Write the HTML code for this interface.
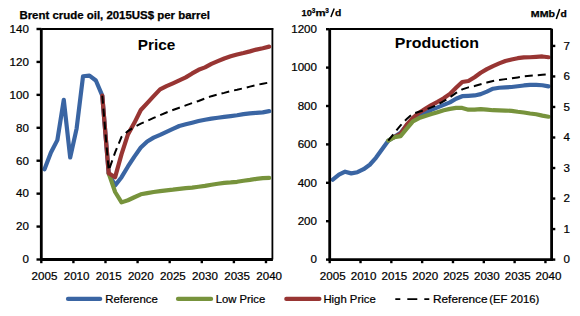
<!DOCTYPE html>
<html><head><meta charset="utf-8"><style>
html,body{margin:0;padding:0;background:#fff;width:580px;height:316px;overflow:hidden;}
svg{display:block;}
text{fill:#000;}
</style></head><body>
<svg width="580" height="316" viewBox="0 0 580 316">
<line x1="41.3" y1="29" x2="273.3" y2="29" stroke="#000" stroke-width="2"/>
<line x1="272.4" y1="28" x2="272.4" y2="259.5" stroke="#000" stroke-width="1.8"/>
<line x1="329.7" y1="29" x2="551.6" y2="29" stroke="#000" stroke-width="2"/>
<polyline points="44.51,169.28 50.93,152.48 57.35,140.13 63.77,99.80 70.19,157.42 76.61,128.61 83.03,76.25 89.45,75.59 95.87,80.53 102.28,95.68 108.70,173.23 115.12,185.41 121.54,177.18 127.96,166.48 134.38,156.60 140.80,147.54 147.22,141.45 153.64,137.66 160.06,134.87 166.48,131.90 172.90,128.94 179.32,125.97 185.74,124.33 192.16,122.68 198.58,121.04 205.00,119.72 211.42,118.57 217.83,117.74 224.25,116.92 230.67,116.10 237.09,115.27 243.51,114.12 249.93,113.30 256.35,112.80 262.77,112.31 269.19,111.16" fill="none" stroke="#3A65A3" stroke-width="4.2" stroke-linejoin="round" stroke-linecap="round"/>
<polyline points="108.70,173.23 115.12,192.00 121.54,202.37 127.96,200.23 134.38,197.26 140.80,194.30 147.22,193.15 153.64,192.00 160.06,191.17 166.48,190.35 172.90,189.69 179.32,188.87 185.74,188.05 192.16,187.55 198.58,186.73 205.00,185.90 211.42,184.75 217.83,183.76 224.25,182.94 230.67,182.45 237.09,181.79 243.51,180.72 249.93,179.90 256.35,178.91 262.77,178.08 269.19,177.92" fill="none" stroke="#77933C" stroke-width="4.2" stroke-linejoin="round" stroke-linecap="round"/>
<polyline points="102.28,95.68 108.70,173.23 115.12,177.18 121.54,154.13 127.96,134.37 134.38,122.85 140.80,110.00 147.22,103.09 153.64,96.17 160.06,89.42 166.48,86.13 172.90,83.33 179.32,80.37 185.74,77.41 192.16,73.45 198.58,69.83 205.00,67.36 211.42,63.90 217.83,61.11 224.25,58.47 230.67,56.33 237.09,54.52 243.51,53.04 249.93,51.39 256.35,49.58 262.77,48.26 269.19,46.62" fill="none" stroke="#983533" stroke-width="4.2" stroke-linejoin="round" stroke-linecap="round"/>
<polyline points="102.28,95.68 108.70,170.59 115.12,152.48 121.54,136.84 127.96,131.08 134.38,126.96 140.80,123.67 147.22,120.87 153.64,117.91 160.06,115.11 166.48,112.47 172.90,110.00 179.32,107.70 185.74,105.39 192.16,103.09 198.58,100.95 205.00,98.48 211.42,96.17 217.83,94.53 224.25,92.88 230.67,91.07 237.09,89.75 243.51,88.27 249.93,86.62 256.35,84.98 262.77,83.66 269.19,82.51" fill="none" stroke="#000" stroke-width="2" stroke-dasharray="8,5"/>
<polyline points="332.78,179.73 338.95,174.74 345.11,171.66 351.27,173.39 357.44,172.24 363.60,169.17 369.77,164.75 375.93,157.84 382.09,149.20 388.26,140.75 394.42,136.72 400.58,132.88 406.75,125.20 412.91,118.48 419.08,115.22 425.24,112.91 431.40,109.84 437.57,107.34 443.73,104.85 449.90,102.35 456.06,98.70 462.22,96.21 468.39,95.82 474.55,95.44 480.72,94.10 486.88,91.60 493.04,88.72 499.21,87.76 505.37,87.38 511.53,86.99 517.70,86.22 523.86,85.46 530.03,84.88 536.19,84.88 542.35,85.26 548.52,86.42" fill="none" stroke="#3A65A3" stroke-width="4.2" stroke-linejoin="round" stroke-linecap="round"/>
<polyline points="394.42,137.10 400.58,133.84 406.75,124.62 412.91,117.90 419.08,112.72 425.24,108.88 431.40,105.04 437.57,101.78 443.73,98.32 449.90,93.90 456.06,87.76 462.22,82.00 468.39,81.04 474.55,77.20 480.72,72.78 486.88,69.14 493.04,66.06 499.21,63.38 505.37,61.07 511.53,59.54 517.70,58.19 523.86,57.42 530.03,57.23 536.19,56.85 542.35,56.46 548.52,57.23" fill="none" stroke="#983533" stroke-width="4.2" stroke-linejoin="round" stroke-linecap="round"/>
<polyline points="388.26,140.56 394.42,137.10 400.58,136.14 406.75,128.66 412.91,121.36 419.08,118.10 425.24,115.98 431.40,114.06 437.57,112.14 443.73,110.22 449.90,108.88 456.06,107.92 462.22,107.92 468.39,109.65 474.55,109.65 480.72,109.07 486.88,109.65 493.04,110.22 499.21,110.42 505.37,110.61 511.53,110.80 517.70,111.76 523.86,112.53 530.03,113.49 536.19,114.26 542.35,115.60 548.52,116.75" fill="none" stroke="#77933C" stroke-width="4.2" stroke-linejoin="round" stroke-linecap="round"/>
<polyline points="388.26,140.56 394.42,132.88 400.58,125.39 406.75,118.86 412.91,113.68 419.08,111.76 425.24,109.84 431.40,107.34 437.57,104.85 443.73,101.20 449.90,97.36 456.06,92.94 462.22,89.30 468.39,87.38 474.55,86.03 480.72,84.30 486.88,82.58 493.04,81.04 499.21,79.89 505.37,79.12 511.53,78.35 517.70,77.39 523.86,76.43 530.03,75.86 536.19,75.28 542.35,74.70 548.52,74.32" fill="none" stroke="#000" stroke-width="2" stroke-dasharray="8,5"/>
<line x1="41.3" y1="28.5" x2="41.3" y2="260.7" stroke="#000" stroke-width="2.8"/>
<line x1="40.099999999999994" y1="259.5" x2="272.9" y2="259.5" stroke="#000" stroke-width="2.8"/>
<line x1="36.5" y1="259.50" x2="41.3" y2="259.50" stroke="#000" stroke-width="2.4"/>
<text x="28.90" y="263.30" text-anchor="end" font-family="'Liberation Sans', sans-serif" stroke="#000" stroke-width="0.22" font-size="11" textLength="6.45" lengthAdjust="spacingAndGlyphs">0</text>
<line x1="36.5" y1="226.57" x2="41.3" y2="226.57" stroke="#000" stroke-width="2.4"/>
<text x="28.90" y="230.37" text-anchor="end" font-family="'Liberation Sans', sans-serif" stroke="#000" stroke-width="0.22" font-size="11" textLength="12.90" lengthAdjust="spacingAndGlyphs">20</text>
<line x1="36.5" y1="193.64" x2="41.3" y2="193.64" stroke="#000" stroke-width="2.4"/>
<text x="28.90" y="197.44" text-anchor="end" font-family="'Liberation Sans', sans-serif" stroke="#000" stroke-width="0.22" font-size="11" textLength="12.90" lengthAdjust="spacingAndGlyphs">40</text>
<line x1="36.5" y1="160.71" x2="41.3" y2="160.71" stroke="#000" stroke-width="2.4"/>
<text x="28.90" y="164.51" text-anchor="end" font-family="'Liberation Sans', sans-serif" stroke="#000" stroke-width="0.22" font-size="11" textLength="12.90" lengthAdjust="spacingAndGlyphs">60</text>
<line x1="36.5" y1="127.79" x2="41.3" y2="127.79" stroke="#000" stroke-width="2.4"/>
<text x="28.90" y="131.59" text-anchor="end" font-family="'Liberation Sans', sans-serif" stroke="#000" stroke-width="0.22" font-size="11" textLength="12.90" lengthAdjust="spacingAndGlyphs">80</text>
<line x1="36.5" y1="94.86" x2="41.3" y2="94.86" stroke="#000" stroke-width="2.4"/>
<text x="28.90" y="98.66" text-anchor="end" font-family="'Liberation Sans', sans-serif" stroke="#000" stroke-width="0.22" font-size="11" textLength="19.35" lengthAdjust="spacingAndGlyphs">100</text>
<line x1="36.5" y1="61.93" x2="41.3" y2="61.93" stroke="#000" stroke-width="2.4"/>
<text x="28.90" y="65.73" text-anchor="end" font-family="'Liberation Sans', sans-serif" stroke="#000" stroke-width="0.22" font-size="11" textLength="19.35" lengthAdjust="spacingAndGlyphs">120</text>
<line x1="36.5" y1="29.00" x2="41.3" y2="29.00" stroke="#000" stroke-width="2.4"/>
<text x="28.90" y="32.80" text-anchor="end" font-family="'Liberation Sans', sans-serif" stroke="#000" stroke-width="0.22" font-size="11" textLength="19.35" lengthAdjust="spacingAndGlyphs">140</text>
<line x1="41.30" y1="259.5" x2="41.30" y2="263.2" stroke="#000" stroke-width="2.4"/>
<text x="44.51" y="279.90" text-anchor="middle" font-family="'Liberation Sans', sans-serif" stroke="#000" stroke-width="0.22" font-size="11" textLength="25.80" lengthAdjust="spacingAndGlyphs">2005</text>
<line x1="73.40" y1="259.5" x2="73.40" y2="263.2" stroke="#000" stroke-width="2.4"/>
<text x="76.61" y="279.90" text-anchor="middle" font-family="'Liberation Sans', sans-serif" stroke="#000" stroke-width="0.22" font-size="11" textLength="25.80" lengthAdjust="spacingAndGlyphs">2010</text>
<line x1="105.49" y1="259.5" x2="105.49" y2="263.2" stroke="#000" stroke-width="2.4"/>
<text x="108.70" y="279.90" text-anchor="middle" font-family="'Liberation Sans', sans-serif" stroke="#000" stroke-width="0.22" font-size="11" textLength="25.80" lengthAdjust="spacingAndGlyphs">2015</text>
<line x1="137.59" y1="259.5" x2="137.59" y2="263.2" stroke="#000" stroke-width="2.4"/>
<text x="140.80" y="279.90" text-anchor="middle" font-family="'Liberation Sans', sans-serif" stroke="#000" stroke-width="0.22" font-size="11" textLength="25.80" lengthAdjust="spacingAndGlyphs">2020</text>
<line x1="169.69" y1="259.5" x2="169.69" y2="263.2" stroke="#000" stroke-width="2.4"/>
<text x="172.90" y="279.90" text-anchor="middle" font-family="'Liberation Sans', sans-serif" stroke="#000" stroke-width="0.22" font-size="11" textLength="25.80" lengthAdjust="spacingAndGlyphs">2025</text>
<line x1="201.79" y1="259.5" x2="201.79" y2="263.2" stroke="#000" stroke-width="2.4"/>
<text x="205.00" y="279.90" text-anchor="middle" font-family="'Liberation Sans', sans-serif" stroke="#000" stroke-width="0.22" font-size="11" textLength="25.80" lengthAdjust="spacingAndGlyphs">2030</text>
<line x1="233.88" y1="259.5" x2="233.88" y2="263.2" stroke="#000" stroke-width="2.4"/>
<text x="237.09" y="279.90" text-anchor="middle" font-family="'Liberation Sans', sans-serif" stroke="#000" stroke-width="0.22" font-size="11" textLength="25.80" lengthAdjust="spacingAndGlyphs">2035</text>
<line x1="265.98" y1="259.5" x2="265.98" y2="263.2" stroke="#000" stroke-width="2.4"/>
<text x="269.19" y="279.90" text-anchor="middle" font-family="'Liberation Sans', sans-serif" stroke="#000" stroke-width="0.22" font-size="11" textLength="25.80" lengthAdjust="spacingAndGlyphs">2040</text>
<line x1="329.7" y1="28.7" x2="329.7" y2="260.8" stroke="#000" stroke-width="2.8"/>
<line x1="551.6" y1="28.7" x2="551.6" y2="260.8" stroke="#000" stroke-width="2.8"/>
<line x1="328.5" y1="259.6" x2="552.8000000000001" y2="259.6" stroke="#000" stroke-width="2.8"/>
<line x1="326" y1="259.60" x2="329.7" y2="259.60" stroke="#000" stroke-width="2.4"/>
<text x="317.00" y="263.40" text-anchor="end" font-family="'Liberation Sans', sans-serif" stroke="#000" stroke-width="0.22" font-size="11" textLength="6.45" lengthAdjust="spacingAndGlyphs">0</text>
<line x1="326" y1="221.20" x2="329.7" y2="221.20" stroke="#000" stroke-width="2.4"/>
<text x="317.00" y="225.00" text-anchor="end" font-family="'Liberation Sans', sans-serif" stroke="#000" stroke-width="0.22" font-size="11" textLength="19.35" lengthAdjust="spacingAndGlyphs">200</text>
<line x1="326" y1="182.80" x2="329.7" y2="182.80" stroke="#000" stroke-width="2.4"/>
<text x="317.00" y="186.60" text-anchor="end" font-family="'Liberation Sans', sans-serif" stroke="#000" stroke-width="0.22" font-size="11" textLength="19.35" lengthAdjust="spacingAndGlyphs">400</text>
<line x1="326" y1="144.40" x2="329.7" y2="144.40" stroke="#000" stroke-width="2.4"/>
<text x="317.00" y="148.20" text-anchor="end" font-family="'Liberation Sans', sans-serif" stroke="#000" stroke-width="0.22" font-size="11" textLength="19.35" lengthAdjust="spacingAndGlyphs">600</text>
<line x1="326" y1="106.00" x2="329.7" y2="106.00" stroke="#000" stroke-width="2.4"/>
<text x="317.00" y="109.80" text-anchor="end" font-family="'Liberation Sans', sans-serif" stroke="#000" stroke-width="0.22" font-size="11" textLength="19.35" lengthAdjust="spacingAndGlyphs">800</text>
<line x1="326" y1="67.60" x2="329.7" y2="67.60" stroke="#000" stroke-width="2.4"/>
<text x="317.00" y="71.40" text-anchor="end" font-family="'Liberation Sans', sans-serif" stroke="#000" stroke-width="0.22" font-size="11" textLength="25.80" lengthAdjust="spacingAndGlyphs">1000</text>
<line x1="326" y1="29.20" x2="329.7" y2="29.20" stroke="#000" stroke-width="2.4"/>
<text x="317.00" y="33.00" text-anchor="end" font-family="'Liberation Sans', sans-serif" stroke="#000" stroke-width="0.22" font-size="11" textLength="25.80" lengthAdjust="spacingAndGlyphs">1200</text>
<line x1="551.6" y1="259.60" x2="555.3" y2="259.60" stroke="#000" stroke-width="2.4"/>
<text x="563.40" y="263.40" text-anchor="start" font-family="'Liberation Sans', sans-serif" stroke="#000" stroke-width="0.22" font-size="11" textLength="6.45" lengthAdjust="spacingAndGlyphs">0</text>
<line x1="551.6" y1="229.07" x2="555.3" y2="229.07" stroke="#000" stroke-width="2.4"/>
<text x="563.40" y="232.87" text-anchor="start" font-family="'Liberation Sans', sans-serif" stroke="#000" stroke-width="0.22" font-size="11" textLength="6.45" lengthAdjust="spacingAndGlyphs">1</text>
<line x1="551.6" y1="198.55" x2="555.3" y2="198.55" stroke="#000" stroke-width="2.4"/>
<text x="563.40" y="202.35" text-anchor="start" font-family="'Liberation Sans', sans-serif" stroke="#000" stroke-width="0.22" font-size="11" textLength="6.45" lengthAdjust="spacingAndGlyphs">2</text>
<line x1="551.6" y1="168.02" x2="555.3" y2="168.02" stroke="#000" stroke-width="2.4"/>
<text x="563.40" y="171.82" text-anchor="start" font-family="'Liberation Sans', sans-serif" stroke="#000" stroke-width="0.22" font-size="11" textLength="6.45" lengthAdjust="spacingAndGlyphs">3</text>
<line x1="551.6" y1="137.50" x2="555.3" y2="137.50" stroke="#000" stroke-width="2.4"/>
<text x="563.40" y="141.30" text-anchor="start" font-family="'Liberation Sans', sans-serif" stroke="#000" stroke-width="0.22" font-size="11" textLength="6.45" lengthAdjust="spacingAndGlyphs">4</text>
<line x1="551.6" y1="106.97" x2="555.3" y2="106.97" stroke="#000" stroke-width="2.4"/>
<text x="563.40" y="110.77" text-anchor="start" font-family="'Liberation Sans', sans-serif" stroke="#000" stroke-width="0.22" font-size="11" textLength="6.45" lengthAdjust="spacingAndGlyphs">5</text>
<line x1="551.6" y1="76.45" x2="555.3" y2="76.45" stroke="#000" stroke-width="2.4"/>
<text x="563.40" y="80.25" text-anchor="start" font-family="'Liberation Sans', sans-serif" stroke="#000" stroke-width="0.22" font-size="11" textLength="6.45" lengthAdjust="spacingAndGlyphs">6</text>
<line x1="551.6" y1="45.92" x2="555.3" y2="45.92" stroke="#000" stroke-width="2.4"/>
<text x="563.40" y="49.72" text-anchor="start" font-family="'Liberation Sans', sans-serif" stroke="#000" stroke-width="0.22" font-size="11" textLength="6.45" lengthAdjust="spacingAndGlyphs">7</text>
<line x1="329.70" y1="259.6" x2="329.70" y2="263.2" stroke="#000" stroke-width="2.4"/>
<text x="332.78" y="279.90" text-anchor="middle" font-family="'Liberation Sans', sans-serif" stroke="#000" stroke-width="0.22" font-size="11" textLength="25.80" lengthAdjust="spacingAndGlyphs">2005</text>
<line x1="360.52" y1="259.6" x2="360.52" y2="263.2" stroke="#000" stroke-width="2.4"/>
<text x="363.60" y="279.90" text-anchor="middle" font-family="'Liberation Sans', sans-serif" stroke="#000" stroke-width="0.22" font-size="11" textLength="25.80" lengthAdjust="spacingAndGlyphs">2010</text>
<line x1="391.34" y1="259.6" x2="391.34" y2="263.2" stroke="#000" stroke-width="2.4"/>
<text x="394.42" y="279.90" text-anchor="middle" font-family="'Liberation Sans', sans-serif" stroke="#000" stroke-width="0.22" font-size="11" textLength="25.80" lengthAdjust="spacingAndGlyphs">2015</text>
<line x1="422.16" y1="259.6" x2="422.16" y2="263.2" stroke="#000" stroke-width="2.4"/>
<text x="425.24" y="279.90" text-anchor="middle" font-family="'Liberation Sans', sans-serif" stroke="#000" stroke-width="0.22" font-size="11" textLength="25.80" lengthAdjust="spacingAndGlyphs">2020</text>
<line x1="452.98" y1="259.6" x2="452.98" y2="263.2" stroke="#000" stroke-width="2.4"/>
<text x="456.06" y="279.90" text-anchor="middle" font-family="'Liberation Sans', sans-serif" stroke="#000" stroke-width="0.22" font-size="11" textLength="25.80" lengthAdjust="spacingAndGlyphs">2025</text>
<line x1="483.80" y1="259.6" x2="483.80" y2="263.2" stroke="#000" stroke-width="2.4"/>
<text x="486.88" y="279.90" text-anchor="middle" font-family="'Liberation Sans', sans-serif" stroke="#000" stroke-width="0.22" font-size="11" textLength="25.80" lengthAdjust="spacingAndGlyphs">2030</text>
<line x1="514.62" y1="259.6" x2="514.62" y2="263.2" stroke="#000" stroke-width="2.4"/>
<text x="517.70" y="279.90" text-anchor="middle" font-family="'Liberation Sans', sans-serif" stroke="#000" stroke-width="0.22" font-size="11" textLength="25.80" lengthAdjust="spacingAndGlyphs">2035</text>
<line x1="545.44" y1="259.6" x2="545.44" y2="263.2" stroke="#000" stroke-width="2.4"/>
<text x="548.52" y="279.90" text-anchor="middle" font-family="'Liberation Sans', sans-serif" stroke="#000" stroke-width="0.22" font-size="11" textLength="25.80" lengthAdjust="spacingAndGlyphs">2040</text>
<text x="19.4" y="18.8" font-family="'Liberation Sans', sans-serif" stroke="#000" stroke-width="0.25" font-size="10.3" font-weight="bold" textLength="190.6" lengthAdjust="spacingAndGlyphs">Brent crude oil, 2015US$ per barrel</text>
<text x="137.8" y="49.5" font-family="'Liberation Sans', sans-serif" font-size="15.4" font-weight="bold" textLength="37.6" lengthAdjust="spacingAndGlyphs">Price</text>
<text x="394.8" y="47.8" font-family="'Liberation Sans', sans-serif" font-size="15.4" font-weight="bold" textLength="84.2" lengthAdjust="spacingAndGlyphs">Production</text>
<text x="301.6" y="16" font-family="'Liberation Sans', sans-serif" stroke="#000" stroke-width="0.25" font-size="9.8" font-weight="bold" textLength="10.3" lengthAdjust="spacingAndGlyphs">10</text>
<text x="311.8" y="12.9" font-family="'Liberation Sans', sans-serif" stroke="#000" stroke-width="0.25" font-size="6.7" font-weight="bold" textLength="3.6" lengthAdjust="spacingAndGlyphs">3</text>
<text x="315.5" y="16" font-family="'Liberation Sans', sans-serif" stroke="#000" stroke-width="0.25" font-size="9.8" font-weight="bold" textLength="10.1" lengthAdjust="spacingAndGlyphs">m</text>
<text x="325.3" y="12.9" font-family="'Liberation Sans', sans-serif" stroke="#000" stroke-width="0.25" font-size="6.7" font-weight="bold" textLength="3.6" lengthAdjust="spacingAndGlyphs">3</text>
<line x1="330.9" y1="17.0" x2="334.2" y2="8.4" stroke="#000" stroke-width="1.5"/>
<text x="335.1" y="16" font-family="'Liberation Sans', sans-serif" stroke="#000" stroke-width="0.25" font-size="9.8" font-weight="bold" textLength="6.3" lengthAdjust="spacingAndGlyphs">d</text>
<text x="530.8" y="16.5" font-family="'Liberation Sans', sans-serif" stroke="#000" stroke-width="0.25" font-size="9.4" font-weight="bold" textLength="24.2" lengthAdjust="spacingAndGlyphs">MMb</text>
<line x1="556.3" y1="18.9" x2="559.7" y2="9.0" stroke="#000" stroke-width="1.5"/>
<text x="560.4" y="16.5" font-family="'Liberation Sans', sans-serif" stroke="#000" stroke-width="0.25" font-size="9.4" font-weight="bold" textLength="6.3" lengthAdjust="spacingAndGlyphs">d</text>
<line x1="68" y1="298.9" x2="100.2" y2="298.9" stroke="#3A65A3" stroke-width="4.2" stroke-linecap="round"/>
<text x="105.2" y="302.8" font-family="'Liberation Sans', sans-serif" stroke="#000" stroke-width="0.22" font-size="11" textLength="52.7" lengthAdjust="spacingAndGlyphs">Reference</text>
<line x1="178" y1="298.9" x2="211.1" y2="298.9" stroke="#77933C" stroke-width="4.2" stroke-linecap="round"/>
<text x="215.7" y="302.8" font-family="'Liberation Sans', sans-serif" stroke="#000" stroke-width="0.22" font-size="11" textLength="49.5" lengthAdjust="spacingAndGlyphs">Low Price</text>
<line x1="286.3" y1="298.9" x2="319.4" y2="298.9" stroke="#983533" stroke-width="4.2" stroke-linecap="round"/>
<text x="323.4" y="302.8" font-family="'Liberation Sans', sans-serif" stroke="#000" stroke-width="0.22" font-size="11" textLength="52.3" lengthAdjust="spacingAndGlyphs">High Price</text>
<line x1="395.3" y1="299.2" x2="429.4" y2="299.2" stroke="#000" stroke-width="1.8" stroke-dasharray="5,7,10,7,5"/>
<text x="433.0" y="302.8" font-family="'Liberation Sans', sans-serif" stroke="#000" stroke-width="0.22" font-size="11" textLength="54.5" lengthAdjust="spacingAndGlyphs">Reference</text>
<text x="489.3" y="302.8" font-family="'Liberation Sans', sans-serif" stroke="#000" stroke-width="0.22" font-size="11" textLength="50.0" lengthAdjust="spacingAndGlyphs">(EF 2016)</text>
</svg>
</body></html>
